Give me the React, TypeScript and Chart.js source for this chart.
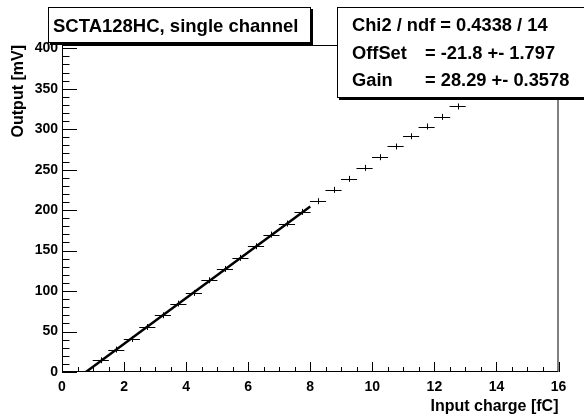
import React, { useEffect, useRef } from 'react';
import { Chart, registerables } from 'chart.js';

Chart.register(...registerables);

// ---- data ----
const charge = [
  1.25, 1.75, 2.25, 2.75, 3.25, 3.75, 4.25, 4.75, 5.25, 5.75, 6.25, 6.75,
  7.25, 7.75, 8.25, 8.75, 9.25, 9.75, 10.25, 10.75, 11.25, 11.75, 12.25, 12.75,
];
const output = [
  14.5, 27.7, 40.8, 55.6, 70.1, 84.5, 97.7, 113.3, 127.3, 141.0, 155.4, 169.8,
  183.4, 197.8, 211.0, 225.0, 238.6, 252.2, 265.4, 278.6, 291.3, 303.3, 315.2, 328.1,
];
const chargeErr = [
  0.26, 0.26, 0.26, 0.26, 0.26, 0.26, 0.26, 0.26, 0.26, 0.26, 0.26, 0.26,
  0.26, 0.26, 0.26, 0.26, 0.26, 0.26, 0.26, 0.26, 0.26, 0.26, 0.26, 0.26,
];
const outputErr = [
  3.7, 3.7, 3.7, 3.7, 3.7, 3.7, 3.7, 3.7, 3.7, 3.7, 3.7, 3.7,
  3.7, 3.7, 3.7, 3.7, 3.7, 3.7, 3.7, 3.7, 3.7, 3.7, 3.7, 3.7,
];
const fitCharge = [0.77, 8.0];
const fitOutput = [0, 204.5];

const xMin = 0;
const xMax = 16;
const yMin = 0;
const yMax = 404;

const titleText = 'SCTA128HC, single channel';
const statsNames = ['Chi2 / ndf', 'OffSet', 'Gain'];
const statsValues = ['= 0.4338 / 14', '= -21.8 +- 1.797', '= 28.29 +- 0.3578'];
const xTitle = 'Input charge [fC]';
const yTitle = 'Output [mV]';

const FONT = '"Liberation Sans", Arial, Helvetica, sans-serif';

const rootPlugin = {
  id: 'rootStyle',
  afterDatasetsDraw(chart: any) {
    const { ctx, chartArea: a, scales } = chart;
    const xs = scales.x;
    const ys = scales.y;
    ctx.save();
    // error bars
    ctx.save();
    ctx.beginPath();
    ctx.rect(a.left, a.top, a.right - a.left, a.bottom - a.top);
    ctx.clip();
    ctx.strokeStyle = '#000';
    ctx.lineWidth = 1;
    for (let i = 0; i < charge.length; i++) {
      const px = xs.getPixelForValue(charge[i]);
      const py = ys.getPixelForValue(output[i]);
      const x1 = xs.getPixelForValue(charge[i] - chargeErr[i]);
      const x2 = xs.getPixelForValue(charge[i] + chargeErr[i]);
      const y1 = ys.getPixelForValue(output[i] - outputErr[i]);
      const y2 = ys.getPixelForValue(output[i] + outputErr[i]);
      const ry = Math.round(py) + 0.5;
      const rx = Math.round(px) + 0.5;
      ctx.beginPath();
      ctx.moveTo(x1, ry);
      ctx.lineTo(x2, ry);
      ctx.moveTo(rx, y1);
      ctx.lineTo(rx, y2);
      ctx.stroke();
    }
    ctx.restore();

    // frame
    ctx.strokeStyle = '#000';
    ctx.lineWidth = 1;
    ctx.strokeRect(a.left + 0.5, a.top + 0.5, a.right - a.left - 1, a.bottom - a.top - 1);

    // x ticks (inside)
    ctx.beginPath();
    for (let v = xMin; v <= xMax + 1e-9; v += 0.5) {
      const p = Math.round(xs.getPixelForValue(v)) + 0.5;
      const len = Math.abs(v % 2) < 1e-9 ? 10 : 5;
      ctx.moveTo(p, a.bottom);
      ctx.lineTo(p, a.bottom - len);
    }
    // y ticks (inside)
    for (let v = yMin; v <= yMax + 1e-9; v += 10) {
      const p = Math.round(ys.getPixelForValue(v)) + 0.5;
      const len = Math.abs(v % 50) < 1e-9 ? 15 : 7.5;
      ctx.moveTo(a.left, p);
      ctx.lineTo(a.left + len, p);
    }
    ctx.stroke();
    ctx.restore();
  },
  afterDraw(chart: any) {
    const { ctx } = chart;
    ctx.save();
    const drawBox = (x: number, y: number, w: number, h: number) => {
      ctx.fillStyle = '#000';
      ctx.fillRect(x + 2, y + 2, w, h);
      ctx.fillStyle = '#fff';
      ctx.fillRect(x, y, w, h);
      ctx.strokeStyle = '#000';
      ctx.lineWidth = 1;
      ctx.strokeRect(x + 0.5, y + 0.5, w - 1, h - 1);
    };
    // title box
    drawBox(48, 7, 263, 36);
    ctx.fillStyle = '#000';
    ctx.font = `bold 18.5px ${FONT}`;
    ctx.textBaseline = 'alphabetic';
    ctx.textAlign = 'left';
    ctx.fillText(titleText, 53, 31.5);

    // stats box
    drawBox(337, 7, 260, 91);
    ctx.fillStyle = '#000';
    ctx.font = `bold 18.3px ${FONT}`;
    const baselines = [31, 58.5, 86];
    for (let i = 0; i < statsNames.length; i++) {
      ctx.fillText(statsNames[i], 352, baselines[i]);
      let vx = 425;
      if (i === 0) vx = 352 + ctx.measureText(statsNames[i] + ' ').width;
      ctx.fillText(statsValues[i], vx, baselines[i]);
    }
    ctx.restore();
  },
};

export default function App() {
  const ref = useRef<HTMLCanvasElement | null>(null);
  useEffect(() => {
    const canvas = ref.current;
    if (!canvas) return;
    const tickFont = { family: FONT, size: 14, weight: 'bold' as const };
    const titleFont = { family: FONT, size: 16, weight: 'bold' as const, lineHeight: 1.2 };
    const chart = new Chart(canvas, {
      type: 'scatter',
      data: {
        datasets: [
          {
            label: 'data',
            data: charge.map((x, i) => ({ x, y: output[i] })),
            pointRadius: 0,
            showLine: false,
          },
          {
            label: 'fit',
            data: fitCharge.map((x, i) => ({ x, y: fitOutput[i] })),
            showLine: true,
            borderColor: '#000',
            borderWidth: 2.5,
            pointRadius: 0,
          },
        ],
      },
      options: {
        responsive: false,
        animation: false,
        layout: { padding: { top: 45, right: 25.5, bottom: 0, left: 0 } },
        plugins: { legend: { display: false }, tooltip: { enabled: false } },
        scales: {
          x: {
            type: 'linear',
            min: xMin,
            max: xMax,
            grid: { display: false, drawTicks: false },
            border: { display: false },
            ticks: {
              stepSize: 2,
              includeBounds: false,
              padding: 6.5,
              maxRotation: 0,
              color: '#000',
              font: tickFont,
            },
            title: {
              display: true,
              text: xTitle,
              align: 'end',
              color: '#000',
              font: titleFont,
              padding: { top: 0, bottom: 0.4 },
            },
            afterFit: (s: any) => {
              s.height = 45;
            },
          },
          y: {
            type: 'linear',
            min: yMin,
            max: yMax,
            grid: { display: false, drawTicks: false },
            border: { display: false },
            ticks: {
              stepSize: 50,
              includeBounds: false,
              padding: 4,
              color: '#000',
              font: tickFont,
            },
            title: {
              display: true,
              text: yTitle,
              align: 'end',
              color: '#000',
              font: titleFont,
              padding: { top: 9.4, bottom: 0 },
            },
            afterFit: (s: any) => {
              s.width = 62;
            },
          },
        },
      },
      plugins: [rootPlugin],
    } as any);
    return () => chart.destroy();
  }, []);
  return (
    <div style={{ position: 'fixed', left: 0, top: 0, width: 584, height: 417, background: '#fff' }}>
      <canvas ref={ref} width={584} height={417} style={{ width: 584, height: 417, display: 'block' }} />
    </div>
  );
}
